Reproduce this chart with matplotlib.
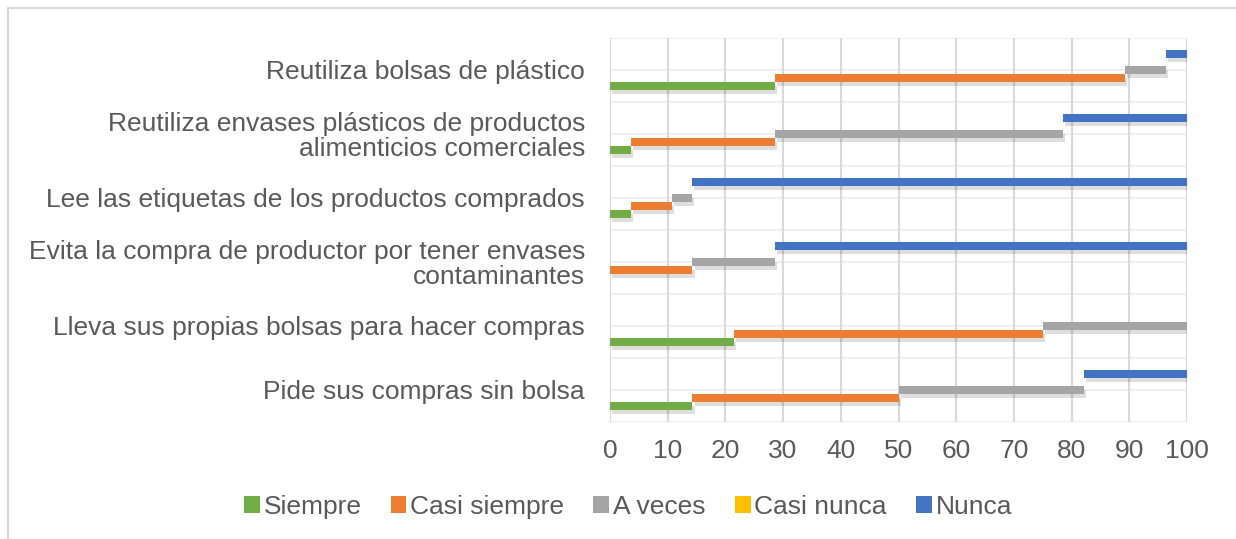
import numpy as np
import matplotlib
matplotlib.use("Agg")
from matplotlib import pyplot as plt
from matplotlib import patheffects as pe
from matplotlib.lines import Line2D
from matplotlib.patches import Patch

plt.rcParams['font.family'] = ['Liberation Sans', 'DejaVu Sans']

categories = [
    "Reutiliza bolsas de plástico",
    "Reutiliza envases plásticos de productos\nalimenticios comerciales",
    "Lee las etiquetas de los productos comprados",
    "Evita la compra de productor por tener envases\ncontaminantes",
    "Lleva sus propias bolsas para hacer compras",
    "Pide sus compras sin bolsa",
]
series = ["Siempre", "Casi siempre", "A veces", "Casi nunca", "Nunca"]
colors = ["#70AD47", "#ED7D31", "#A5A5A5", "#FFC000", "#4472C4"]

# percentages per category, in the order of the series
siempre = [28.57, 3.57, 3.57, 0.0, 21.43, 14.29]
casi_siempre = [60.71, 25.00, 7.14, 14.29, 53.57, 35.71]
a_veces = [7.14, 50.00, 3.57, 14.29, 25.00, 32.14]
casi_nunca = [0.0, 0.0, 0.0, 0.0, 0.0, 0.0]
nunca = [3.57, 21.43, 85.71, 71.43, 0.0, 17.86]

values = np.array([siempre, casi_siempre, a_veces, casi_nunca, nunca])
starts = np.vstack([np.zeros(len(categories)), np.cumsum(values, axis=0)[:-1]])

text_color = "#595959"

fig = plt.figure(figsize=(12.36, 5.39), dpi=100)
ax = fig.add_axes([610 / 1236, 1 - 422 / 539, 577 / 1236, 384 / 539])

y = np.arange(len(categories))
bar_h = 0.135
offsets = [0.25, 0.125, 0.0, -0.125, -0.25]
shadow = [pe.SimplePatchShadow(offset=(1.5, -3), shadow_rgbFace="black", alpha=0.13), pe.Normal()]

for i, name in enumerate(series):
    bars = ax.barh(y + offsets[i], values[i], left=starts[i], height=bar_h,
                   color=colors[i], label=name, zorder=3)
    for b in bars:
        if b.get_width() > 0:
            b.set_path_effects(shadow)

ax.set_xlim(0, 100)
ax.set_ylim(len(categories) - 0.5, -0.5)
ax.set_xticks(np.arange(0, 101, 10))
ax.set_yticks(y)
ax.set_yticklabels(categories, fontsize=19, color=text_color, linespacing=1.0)
ax.tick_params(axis="x", labelsize=19, labelcolor=text_color, length=0, pad=12)
ax.tick_params(axis="y", length=0, pad=18)

for x in np.arange(0, 101, 10):
    ax.axvline(x, color="#D9D9D9", lw=1.5, zorder=1)
for h in np.arange(-0.5, len(categories), 0.5):
    ax.axhline(h, color="#EFEFEF", lw=1.5, zorder=0)
for s in ax.spines.values():
    s.set_visible(False)

handles = [Patch(facecolor=c, edgecolor="none") for c in colors]
fig.legend(handles, series, loc="center", bbox_to_anchor=(628 / 1236, 1 - 507 / 539),
           ncol=5, frameon=False, fontsize=19, labelcolor=text_color,
           handlelength=0.6, handleheight=0.6, handletextpad=0.15, columnspacing=1.1)

# chart frame edges
fig.add_artist(Line2D([8 / 1236, 1], [1 - 8 / 539, 1 - 8 / 539], color="#D9D9D9", lw=1.5))
fig.add_artist(Line2D([8 / 1236, 8 / 1236], [0, 1 - 8 / 539], color="#D9D9D9", lw=1.5))

fig.savefig("out.png", dpi=100)
